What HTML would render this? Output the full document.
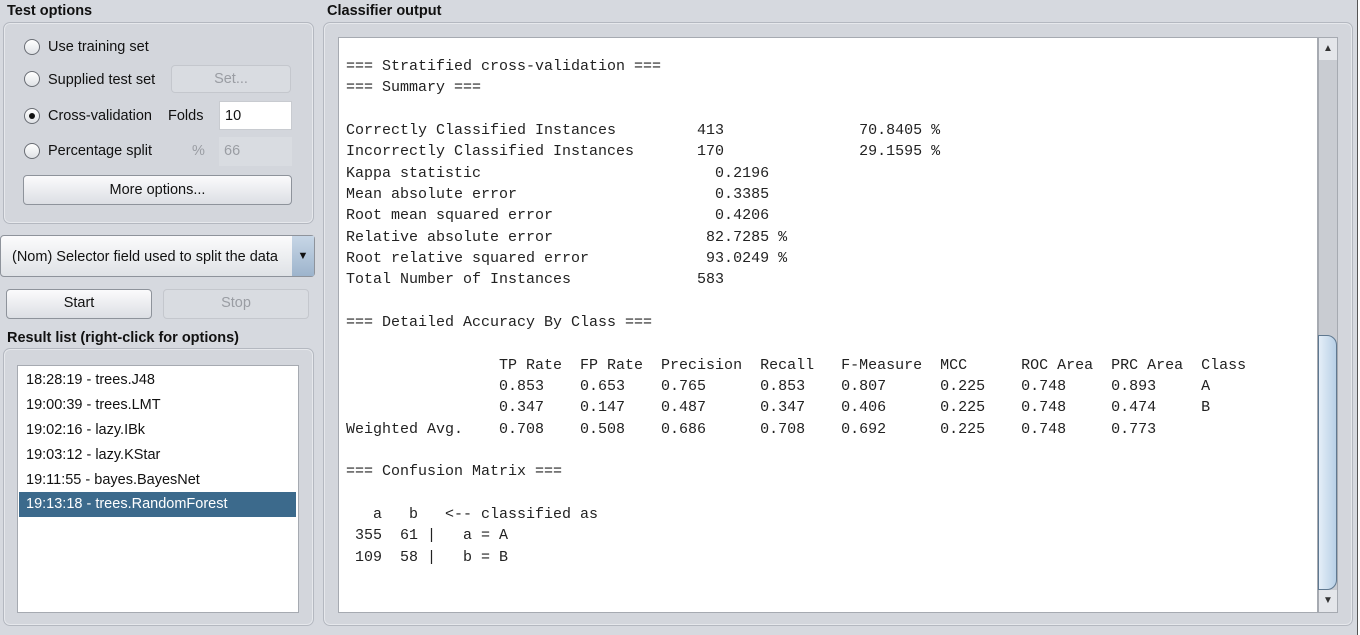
<!DOCTYPE html>
<html><head><meta charset="utf-8"><style>
*{box-sizing:border-box;margin:0;padding:0}
body{width:1360px;height:635px;background:#d6d9df;font-family:"Liberation Sans",Arial,sans-serif;font-size:14.5px;color:#111;position:relative;overflow:hidden}
.abs{position:absolute}
.title{font-weight:bold;font-size:14.5px}
.group{border:1px solid #b4b8c0;border-radius:7px;background:#d3d6dc;box-shadow:inset 0 0 0 1px #e6e8ec}
.radio{width:16px;height:16px;border-radius:50%;border:1px solid #6a6e75;background:linear-gradient(#fff,#dfe2e6)}
.btn{border:1px solid #8e939b;border-radius:4px;background:linear-gradient(#fbfbfc,#dcdfe4);text-align:center;line-height:26px}
.dis{border:1px solid #c4c7cd;border-radius:4px;background:#d9dce1;color:#9a9da3;text-align:center;line-height:26px}
.lbl{font-size:14.5px}
pre{font-family:"Liberation Mono","Courier New",monospace;font-size:15px;line-height:21.33px;color:#222}
.li{position:absolute;left:1px;width:277px;height:25px;line-height:25px;padding-left:7px;font-size:14.5px}
</style></head><body>
<div class="abs title" style="left:7px;top:3px">Test options</div>
<div class="abs group" style="left:3px;top:22px;width:311px;height:202px"></div>
<div class="abs radio" style="left:24px;top:39px"></div>
<div class="abs lbl" style="left:48px;top:39px">Use training set</div>
<div class="abs radio" style="left:24px;top:71px"></div>
<div class="abs lbl" style="left:48px;top:72px">Supplied test set</div>
<div class="abs dis" style="left:171px;top:65px;width:120px;height:28px">Set...</div>
<div class="abs radio" style="left:24px;top:108px"><div style="width:6px;height:6px;border-radius:50%;background:#111;margin:4px"></div></div>
<div class="abs lbl" style="left:48px;top:108px">Cross-validation</div>
<div class="abs lbl" style="left:168px;top:108px">Folds</div>
<div class="abs" style="left:219px;top:101px;width:73px;height:29px;background:#fff;border:1px solid #c8cbd0;padding:6px 0 0 5px">10</div>
<div class="abs radio" style="left:24px;top:143px"></div>
<div class="abs lbl" style="left:48px;top:143px">Percentage split</div>
<div class="abs lbl" style="left:192px;top:143px;color:#9a9da3">%</div>
<div class="abs" style="left:219px;top:137px;width:73px;height:29px;background:#d9dce1;color:#9a9da3;padding:6px 0 0 5px">66</div>
<div class="abs btn" style="left:23px;top:175px;width:269px;height:30px;line-height:28px">More options...</div>
<div class="abs" style="left:0;top:235px;width:315px;height:42px;border:1px solid #8e939b;border-radius:4px;background:linear-gradient(#fbfbfc,#dfe2e6)"><span style="position:absolute;left:11px;top:13px">(Nom) Selector field used to split the data</span><span style="position:absolute;right:0;top:0;width:22px;height:40px;background:linear-gradient(#c7d6e6,#9db4cc);text-align:center;line-height:40px;font-size:11px">▼</span></div>
<div class="abs btn" style="left:6px;top:289px;width:146px;height:30px">Start</div>
<div class="abs dis" style="left:163px;top:289px;width:146px;height:30px">Stop</div>
<div class="abs title" style="left:7px;top:330px">Result list (right-click for options)</div>
<div class="abs group" style="left:3px;top:348px;width:311px;height:278px"></div>
<div class="abs" style="left:17px;top:365px;width:282px;height:248px;background:#fff;border:1px solid #a6aab1">
<div class="li" style="top:2px">18:28:19 - trees.J48</div>
<div class="li" style="top:27px">19:00:39 - trees.LMT</div>
<div class="li" style="top:52px">19:02:16 - lazy.IBk</div>
<div class="li" style="top:77px">19:03:12 - lazy.KStar</div>
<div class="li" style="top:102px">19:11:55 - bayes.BayesNet</div>
<div class="li" style="top:126px;background:#3c6a8c;color:#fff">19:13:18 - trees.RandomForest</div>
</div>
<div class="abs title" style="left:327px;top:3px">Classifier output</div>
<div class="abs group" style="left:323px;top:22px;width:1030px;height:604px"></div>
<div class="abs" style="left:338px;top:37px;width:980px;height:576px;background:#fff;border:1px solid #a6aab1;overflow:hidden">
<pre style="position:absolute;left:7px;top:18px">=== Stratified cross-validation ===
=== Summary ===

Correctly Classified Instances         413               70.8405 %
Incorrectly Classified Instances       170               29.1595 %
Kappa statistic                          0.2196
Mean absolute error                      0.3385
Root mean squared error                  0.4206
Relative absolute error                 82.7285 %
Root relative squared error             93.0249 %
Total Number of Instances              583     

=== Detailed Accuracy By Class ===

                 TP Rate  FP Rate  Precision  Recall   F-Measure  MCC      ROC Area  PRC Area  Class
                 0.853    0.653    0.765      0.853    0.807      0.225    0.748     0.893     A
                 0.347    0.147    0.487      0.347    0.406      0.225    0.748     0.474     B
Weighted Avg.    0.708    0.508    0.686      0.708    0.692      0.225    0.748     0.773     

=== Confusion Matrix ===

   a   b   &lt;-- classified as
 355  61 |   a = A
 109  58 |   b = B</pre>
</div>
<div class="abs" style="left:1318px;top:37px;width:20px;height:576px;background:#c9ccd2;border:1px solid #a6aab1">
<div style="position:absolute;top:0;left:0;width:18px;height:22px;background:#e4e6ea;text-align:center;font-size:10px;line-height:22px;color:#333">▲</div>
<div style="position:absolute;top:297px;left:-1px;width:19px;height:255px;border:1px solid #5f7890;border-radius:0 10px 10px 0;background:linear-gradient(90deg,#e4eef8,#b8d0e6)"></div>
<div style="position:absolute;bottom:0;left:0;width:18px;height:22px;background:#e4e6ea;text-align:center;font-size:10px;line-height:22px;color:#333">▼</div>
</div>
<div class="abs" style="left:1357px;top:0;width:3px;height:635px;background:#fff;border-left:1px solid #555"></div>
</body></html>
